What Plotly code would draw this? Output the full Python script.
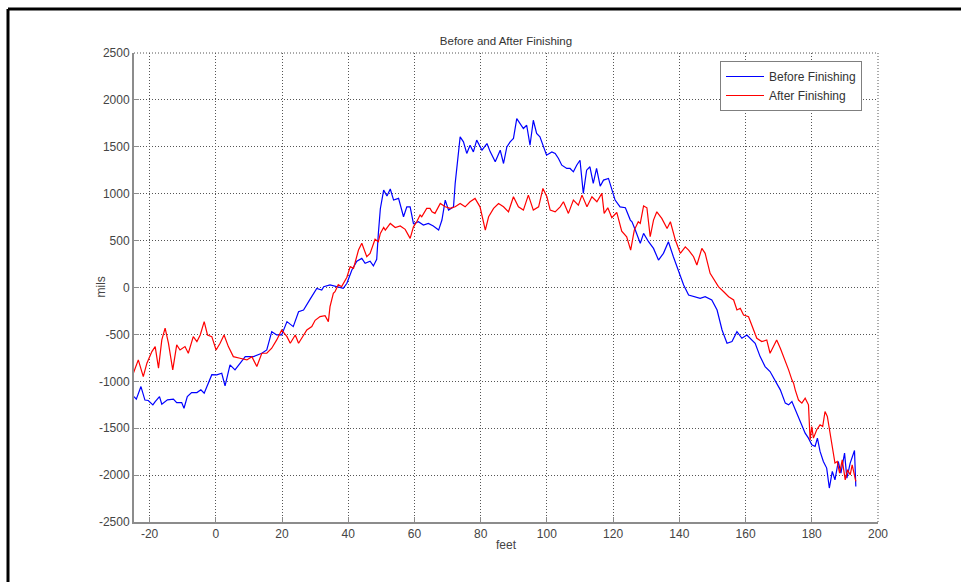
import plotly.graph_objects as go

# ---------------- data ----------------
before_x = [-24.7, -24.0, -22.6, -21.4, -20.4, -19.0, -18.3, -17.0, -16.3, -14.6, -12.8, -11.8, -10.3, -9.6,
            -8.6, -7.3, -5.7, -4.5, -3.5, -2.2, -1.2, 0.3, 1.8, 2.8, 4.3, 5.8, 7.3, 8.9, 11.4, 13.9, 15.4,
            16.9, 18.4, 19.9, 21.5, 23.4, 25.0, 26.5, 28.5, 30.5, 32.0, 32.6, 34.5, 36.6, 38.5, 39.6, 41.1,
            42.6, 44.1, 45.1, 46.6, 47.6, 48.6, 49.1, 49.7, 50.7, 51.7, 52.7, 53.7, 55.2, 55.7, 56.7, 57.7,
            58.7, 59.7, 61.2, 62.7, 64.2, 65.7, 67.3, 68.3, 69.3, 70.3, 71.8, 72.3, 73.3, 73.8, 74.8, 75.8,
            76.8, 77.8, 78.8, 80.4, 81.9, 82.9, 84.4, 85.9, 86.9, 87.9, 88.9, 89.9, 90.9, 91.9, 92.9, 93.9,
            94.9, 95.9, 96.9, 97.9, 98.9, 99.9, 101.5, 102.5, 103.5, 104.5, 106.0, 107.0, 108.0, 109.0,
            110.0, 111.0, 112.0, 113.0, 114.0, 115.0, 116.1, 117.1, 118.6, 119.6, 120.1, 120.6, 122.1,
            123.7, 125.2, 125.7, 126.7, 127.7, 128.2, 129.2, 130.7, 132.2, 133.7, 135.2, 136.7, 138.2,
            139.8, 141.3, 142.8, 144.8, 146.3, 147.8, 149.8, 151.4, 152.9, 154.4, 155.9, 157.4, 158.9,
            160.4, 161.9, 162.9, 164.4, 165.9, 167.4, 168.9, 170.5, 172.0, 173.0, 174.0, 175.0, 176.5,
            178.0, 179.0, 180.0, 181.0, 181.7, 182.5, 183.5, 184.5, 185.3, 186.2, 187.0, 188.0, 188.8,
            189.9, 190.6, 191.6, 192.6, 192.9, 193.3]
before_y = [-1163, -1190, -1056, -1200, -1205, -1251, -1216, -1163, -1244, -1198, -1190, -1227, -1227, -1287,
            -1163, -1120, -1120, -1091, -1127, -1003, -930, -932, -914, -1049, -825, -879, -807, -737, -737,
            -701, -666, -471, -506, -506, -364, -417, -258, -240, -124, -10, -27, 9, 27, 9, -9, 45, 186,
            280, 310, 258, 280, 230, 300, 577, 840, 1038, 975, 1050, 932, 950, 878, 754, 860,
            860, 680, 701, 666, 683, 655, 612, 719, 932, 825, 860, 1109, 1411, 1606, 1553, 1429,
            1517, 1446, 1571, 1464, 1535, 1446, 1340, 1464, 1322, 1499, 1553, 1589, 1801, 1748, 1695, 1730,
            1517, 1783, 1642, 1606, 1499, 1411, 1446, 1429, 1376, 1304, 1269, 1269, 1233, 1304,
            1357, 1003, 1251, 1287, 1109, 1269, 1080, 1145, 1163, 1056, 1003, 932, 860,
            850, 719, 701, 612, 506, 471, 577, 488, 417, 293, 364, 488, 328,
            168, 27, -80, -98, -115, -98, -133, -240, -453, -594, -577, -471, -541,
            -506, -559, -594, -737, -843, -896, -985, -1091, -1233, -1251, -1216, -1304, -1429,
            -1553, -1606, -1677, -1695, -1606, -1748, -1855, -1925, -2138, -1961, -2050, -1855, -1979,
            -1766, -2032, -1872, -1748, -1738, -2121]

after_x = [-24.9, -23.4, -21.9, -20.8, -19.3, -18.3, -17.3, -16.3, -15.3, -14.3, -13.0, -11.8, -10.8, -9.3,
           -8.3, -6.8, -5.7, -4.7, -3.5, -2.5, -1.2, 0.1, 1.3, 2.5, 3.8, 5.3, 7.3, 9.4, 10.9, 12.4, 13.9,
           15.4, 16.9, 18.4, 19.9, 21.5, 22.5, 24.0, 25.0, 26.0, 27.5, 29.0, 30.0, 31.5, 33.0, 34.0, 34.5,
           35.5, 36.0, 37.0, 38.0, 39.6, 40.6, 41.6, 43.1, 44.1, 45.6, 46.6, 47.1, 48.1, 49.1, 49.7, 50.7,
           51.2, 52.7, 54.2, 55.7, 57.2, 58.7, 59.7, 60.7, 61.7, 62.2, 63.2, 63.7, 64.7, 65.3, 66.2, 66.8,
           67.8, 69.3, 70.8, 72.3, 73.8, 75.3, 76.8, 78.3, 79.8, 81.4, 82.4, 83.9, 85.4, 86.9, 88.4, 89.9,
           91.4, 92.9, 94.4, 95.9, 97.5, 98.8, 100.0, 101.0, 102.5, 104.0, 105.0, 106.5, 108.0, 109.5,
           110.6, 112.1, 113.6, 115.1, 116.6, 117.3, 118.4, 119.6, 121.1, 122.6, 124.1, 125.3, 126.4,
           127.6, 128.2, 129.2, 130.2, 131.2, 132.2, 133.2, 134.7, 136.3, 137.3, 138.8, 140.3, 141.8,
           142.8, 144.3, 145.3, 146.8, 147.8, 149.3, 150.3, 151.8, 153.4, 154.9, 156.4, 157.4, 158.4,
           159.4, 160.9, 162.4, 163.4, 164.9, 166.4, 167.4, 168.4, 169.4, 170.5, 171.5, 173.0, 174.0,
           174.5, 175.0, 176.0, 177.0, 178.0, 179.0, 179.5, 180.0, 180.5, 181.5, 182.5, 183.3, 184.0,
           184.7, 185.5, 186.3, 187.0, 187.7, 188.4, 189.2, 190.1, 190.8, 191.6, 192.2, 192.8, 193.3]
after_y = [-914, -772, -950, -807, -683, -630, -860, -559, -434, -594, -878, -612, -666, -630,
           -701, -524, -577, -506, -364, -506, -524, -666, -594, -506, -630, -737, -754, -772, -737, -843, -701,
           -701, -647, -559, -453, -524, -594, -506, -594, -541, -453, -417, -350, -310, -300, -364, -204,
           -62, -45, 30, 9, 110, 222, 204, 399, 471, 328, 364, 417, 515, 488, 577, 640,
           612, 683, 640, 656, 620, 524, 647, 701, 772, 754, 825, 843, 843, 807, 790, 825,
           896, 860, 843, 860, 896, 860, 914, 950, 860, 612, 754, 843, 896, 860, 807, 967,
           860, 825, 985, 825, 860, 1056, 967, 825, 807, 860, 914, 790, 932, 878,
           985, 860, 967, 914, 1003, 790, 850, 745, 800, 600, 540, 399, 612,
           701, 683, 870, 850, 541, 719, 807, 737, 630, 701, 506, 364, 434,
           399, 328, 240, 417, 364, 151, 98, 9, -45, -98, -133, -240, -222,
           -293, -311, -453, -541, -577, -559, -701, -630, -559, -647, -737, -878, -985,
           -1020, -1091, -1200, -1233, -1180, -1251, -1624, -1482, -1606, -1517, -1464, -1482, -1322,
           -1375, -1553, -1695, -1872, -1855, -1979, -1837, -2050, -1943, -1997, -1890, -1997, -2068]

x_tick_vals = [-20, 0, 20, 40, 60, 80, 100, 120, 140, 160, 180, 200]
x_tick_text = ["-20", "0", "20", "40", "60", "80", "100", "120", "140", "160", "180", "200"]
y_tick_vals = [-2500, -2000, -1500, -1000, -500, 0, 500, 1000, 1500, 2000, 2500]
y_tick_text = ["-2500", "-2000", "-1500", "-1000", "-500", "0", "500", "1000", "1500", "2000", "2500"]

# ---------------- figure ----------------
W, H = 961, 582
L, R, T, B = 134, 83, 53, 60
pw, ph = W - L - R, H - T - B

def px_x(p):
    return (p - L) / pw

def px_y(p):
    return (H - B - p) / ph

FONT = "Liberation Sans, Arial, sans-serif"
GRID_COLOR = "#555555"
GRID_DASH = "1px,2px"

fig = go.Figure()
fig.add_trace(go.Scatter(x=before_x, y=before_y, mode="lines", name="Before Finishing",
                         line=dict(color="#0000FF", width=1.2)))
fig.add_trace(go.Scatter(x=after_x, y=after_y, mode="lines", name="After Finishing",
                         line=dict(color="#FF0000", width=1.2)))

axis_common = dict(
    showgrid=True, gridcolor=GRID_COLOR, griddash=GRID_DASH, gridwidth=1,
    zeroline=False, showline=True, linecolor="#8c8c8c", linewidth=2,
    ticks="inside", ticklen=5, tickcolor="#8c8c8c", tickwidth=1,
    tickfont=dict(family=FONT, size=12, color="#444444"),
)

fig.update_xaxes(range=[-24.7, 200], tickmode="array", tickvals=x_tick_vals, ticktext=x_tick_text,
                 **axis_common)
fig.update_yaxes(range=[-2500, 2500], tickmode="array", tickvals=y_tick_vals, ticktext=y_tick_text,
                 **axis_common)

fig.update_layout(
    width=W, height=H,
    margin=dict(l=L, r=R, t=T, b=B, pad=0),
    paper_bgcolor="white", plot_bgcolor="white",
    font=dict(family=FONT, size=12, color="#333333"),
    title=dict(text="Before and After Finishing", x=0.5, xref="paper", xanchor="center",
               y=1 - 41 / H, yref="container", yanchor="middle",
               font=dict(family=FONT, size=11.5, color="#333333")),
    legend=dict(x=px_x(720), y=px_y(61), xanchor="left", yanchor="top",
                bgcolor="white", bordercolor="#7f7f7f", borderwidth=1, itemwidth=38,
                font=dict(family=FONT, size=12, color="#333333")),
    annotations=[
        dict(text="feet", x=0.5, xref="paper", y=px_y(545), yref="paper", showarrow=False,
             xanchor="center", yanchor="middle", font=dict(family=FONT, size=12, color="#444444")),
        dict(text="mils", x=px_x(100), xref="paper", y=px_y(287.5), yref="paper", showarrow=False,
             textangle=-90, xanchor="center", yanchor="middle",
             font=dict(family=FONT, size=12, color="#444444")),
    ],
    shapes=[
        # dotted box edges (top and right) like the grid
        dict(type="line", xref="paper", yref="paper", x0=0, x1=1, y0=1, y1=1, layer="below",
             line=dict(color=GRID_COLOR, width=1, dash=GRID_DASH)),
        dict(type="line", xref="paper", yref="paper", x0=1, x1=1, y0=0, y1=1, layer="below",
             line=dict(color=GRID_COLOR, width=1, dash=GRID_DASH)),
        # black frame of the picture
        dict(type="line", xref="paper", yref="paper", x0=px_x(8), x1=px_x(W + 2), y0=px_y(9), y1=px_y(9),
             line=dict(color="black", width=3)),
        dict(type="line", xref="paper", yref="paper", x0=px_x(8), x1=px_x(8), y0=px_y(9), y1=px_y(H + 2),
             line=dict(color="black", width=3)),
    ],
    showlegend=True,
)

fig.write_html("out.html", config={"displayModeBar": False},
               post_script="document.body.style.margin='0';document.body.style.overflow='hidden';")
